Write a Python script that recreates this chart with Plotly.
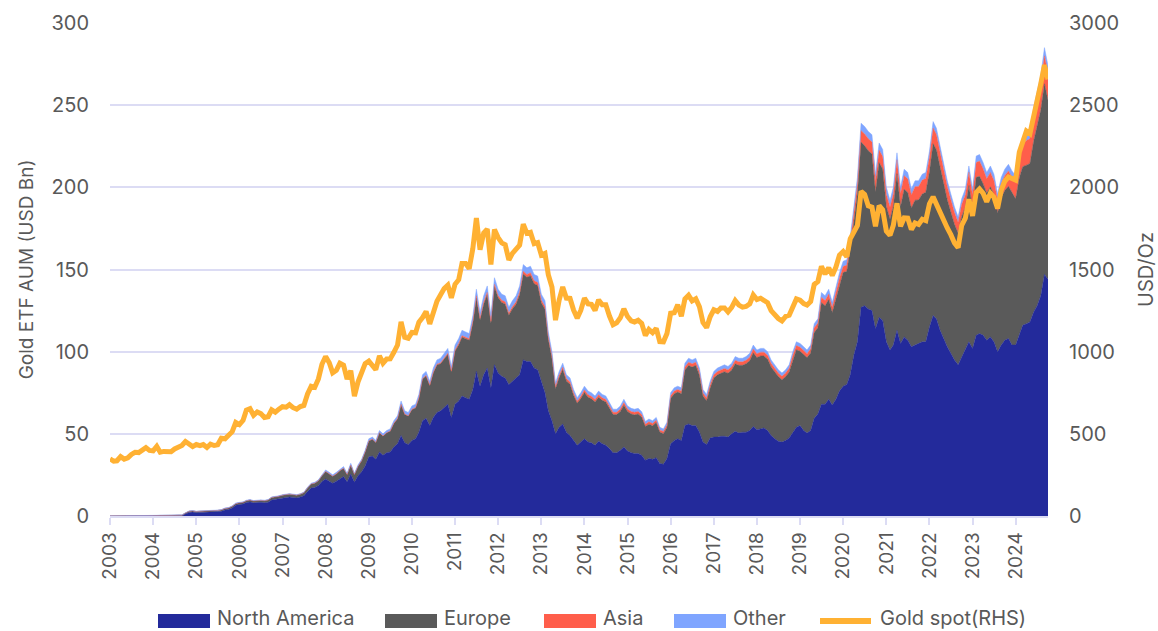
import plotly.graph_objects as go
import pandas as pd

# Monthly positions, Jan 2003 .. Oct 2024
months = pd.date_range("2003-01-01", periods=262, freq="MS")
year_ticks = list(range(2003, 2025))

north_america = [
    0, 0, 0, 0, 0, 0, 0, 0, 0, 0, 0, 0,
    0, 0, 0, 0, 0, 0, 0, 0, 0, 1.2, 2.2, 2.4,
    2.0, 2.2, 2.2, 2.3, 2.4, 2.6, 2.7, 2.9, 3.7, 4.0, 4.9, 6.5,
    7.0, 7.3, 8.2, 8.5, 8.0, 8.3, 8.3, 8.1, 8.4, 9.8, 10.1, 10.4,
    11.1, 11.3, 11.6, 11.3, 11.0, 11.6, 12.3, 14.9, 17.0, 17.4, 18.6, 21.0,
    22.5, 21.2, 20.0, 21.2, 22.8, 24.0, 20.8, 25.6, 20.6, 24.5, 27.0, 30.5,
    36, 36.5, 34.5, 39, 37, 38.5, 39, 42, 44, 49, 44.5, 43.5,
    46, 47, 51, 58, 59.5, 55, 60, 63, 64, 66, 68, 60,
    68, 70, 73, 72, 71, 77, 88, 79, 86, 90, 78, 92,
    87, 85, 84, 80, 82, 84, 86, 95, 94, 94, 90, 89,
    82, 75, 64, 58, 50, 54, 56, 51, 49, 46, 43, 45,
    47, 45, 44.5, 43, 45.5, 44, 43, 41, 38.5, 38.5, 40, 42,
    39.5, 38.5, 38, 38, 37, 34, 35, 34.5, 35.5, 32, 31.5, 35,
    44, 46, 47, 46, 55, 56, 55, 55, 51, 45, 43.5, 47.5,
    48, 48, 48.5, 48.5, 48, 50, 51.5, 50.5, 51, 51, 52, 54.5,
    52.5, 53, 53.5, 52, 49, 47, 45.5, 45, 46, 47.5, 51, 54,
    55, 52, 50.5, 52, 59.5, 62, 68, 68, 71, 67.5, 71, 76,
    79, 80, 86, 98, 106, 127, 128, 126, 125, 114, 121, 119,
    106, 101, 104, 113, 105, 109, 107, 103, 104, 105, 106, 106,
    115, 122, 120, 113, 108, 103, 99, 95, 92, 97, 101, 106,
    102, 110, 111, 110, 107, 109, 106, 100, 104, 107, 108, 104,
    104, 110, 116, 117, 118, 124, 128, 134, 147, 144,
]

europe = [
    0, 0, 0, 0, 0, 0, 0, 0, 0, 0, 0, 0,
    0.1, 0.2, 0.3, 0.4, 0.4, 0.4, 0.4, 0.5, 0.5, 0.6, 0.7, 0.7,
    0.7, 0.7, 0.7, 0.7, 0.7, 0.7, 0.7, 0.8, 0.9, 0.9, 1.0, 1.0,
    1.0, 1.0, 1.1, 1.2, 1.1, 1.2, 1.2, 1.2, 1.3, 1.5, 1.5, 1.6,
    1.6, 1.7, 1.7, 1.7, 1.7, 1.7, 1.9, 2.2, 2.5, 2.6, 2.9, 3.5,
    4.6, 4.4, 4.2, 4.4, 4.8, 5.0, 4.4, 5.4, 4.6, 5.6, 6.6, 8.5,
    9.7, 10.2, 10.2, 11.6, 11.6, 12.1, 12.6, 14.3, 15.2, 18.8, 17.3, 17.3,
    18.7, 18.7, 20.5, 25.3, 25.7, 24.3, 27.0, 28.9, 28.6, 29.5, 30.3, 27.6,
    32.3, 34.1, 35.8, 35.9, 35.9, 40.5, 44.8, 40.3, 43.0, 44.8, 39.3, 47.6,
    45.8, 44.9, 44.9, 42.2, 44.0, 44.9, 48.7, 52.2, 51.3, 52.2, 51.3, 51.3,
    47.7, 50.8, 43.5, 37.9, 27.5, 30.3, 33.1, 31.2, 31.2, 27.5, 25.6, 26.5,
    28.2, 27.3, 26.8, 26.4, 26.7, 26.4, 26.4, 24.5, 23.2, 23.2, 23.6, 25.4,
    24.1, 23.6, 23.6, 24.1, 23.2, 20.4, 20.9, 20.4, 21.4, 19.1, 18.6, 18.9,
    27.6, 28.4, 28.4, 28.4, 33.8, 35.6, 35.6, 36.6, 34.7, 28.0, 26.6, 30.4,
    35.9, 37.9, 38.3, 39.3, 38.9, 38.8, 41.1, 41.2, 40.7, 41.7, 42.5, 44.8,
    43.9, 44.4, 43.9, 43.5, 41.7, 40.7, 39.4, 37.9, 38.8, 40.2, 44.4, 47.2,
    45.2, 46.2, 45.9, 47.2, 52.2, 52.5, 61.9, 59.9, 60.7, 56.4, 61.6, 65.2,
    69.1, 68.9, 76.0, 81.0, 90.2, 100.5, 97.3, 96.3, 95.3, 83.1, 94.1, 92.1,
    82.3, 79.8, 84.5, 95.3, 83.2, 89.8, 89.9, 84.4, 88.2, 87.3, 90.0, 91.0,
    94.5, 104.6, 102.9, 99.5, 94.0, 89.5, 86.0, 82.5, 80.0, 85.3, 86.9, 95.1,
    85.5, 96.1, 95.7, 92.1, 89.6, 91.3, 89.6, 84.4, 89.6, 91.1, 92.6, 92.4,
    89.0, 95.8, 96.6, 96.5, 96.5, 103.9, 109.8, 113.2, 116.0, 109.2,
]

asia = [
    0, 0, 0, 0, 0, 0, 0, 0, 0, 0, 0, 0,
    0, 0, 0, 0, 0, 0, 0, 0, 0, 0, 0, 0,
    0, 0, 0, 0, 0, 0, 0, 0, 0, 0, 0, 0,
    0, 0, 0, 0, 0, 0, 0, 0, 0, 0, 0, 0,
    0, 0, 0, 0, 0, 0, 0, 0, 0, 0, 0, 0,
    0.05, 0.05, 0.05, 0.05, 0.05, 0.05, 0.05, 0.05, 0.05, 0.05, 0.05, 0.05,
    0.1, 0.1, 0.1, 0.1, 0.1, 0.1, 0.1, 0.1, 0.1, 0.2, 0.2, 0.2,
    0.3, 0.3, 0.4, 0.4, 0.4, 0.4, 0.5, 0.5, 0.6, 0.6, 0.7, 0.6,
    0.7, 0.8, 0.9, 0.9, 0.9, 1.0, 1.2, 1.1, 1.2, 1.3, 1.2, 1.4,
    1.4, 1.4, 1.4, 1.3, 1.4, 1.4, 1.5, 1.7, 1.7, 1.8, 1.8, 1.8,
    1.7, 1.7, 1.5, 1.4, 1.2, 1.3, 1.4, 1.4, 1.4, 1.3, 1.3, 1.3,
    1.5, 1.5, 1.5, 1.5, 1.6, 1.5, 1.5, 1.5, 1.4, 1.4, 1.5, 1.6,
    1.5, 1.5, 1.5, 1.5, 1.5, 1.4, 1.4, 1.4, 1.4, 1.3, 1.3, 1.4,
    1.5, 1.6, 1.6, 1.6, 1.9, 2.0, 2.0, 2.0, 2.0, 1.9, 1.9, 2.0,
    2.0, 2.0, 2.0, 2.0, 2.0, 2.0, 2.1, 2.1, 2.1, 2.1, 2.2, 2.3,
    2.3, 2.3, 2.3, 2.3, 2.2, 2.2, 2.1, 2.1, 2.2, 2.2, 2.4, 2.5,
    2.5, 2.5, 2.4, 2.5, 2.8, 2.9, 3.2, 3.2, 3.3, 3.2, 3.4, 3.6,
    3.7, 3.8, 4.5, 5.2, 5.8, 7.0, 7.2, 7.3, 7.3, 6.8, 7.5, 7.6,
    7.5, 7.2, 7.5, 8.5, 8.0, 8.3, 8.3, 8.0, 8.2, 8.2, 8.4, 8.4,
    8.8, 9.5, 9.3, 8.8, 8.4, 8.0, 7.6, 7.2, 6.8, 7.3, 7.6, 8.2,
    8.0, 9.0, 9.3, 9.0, 8.6, 8.8, 8.6, 8.0, 8.6, 9.0, 9.4, 9.6,
    10, 12, 14, 15, 15, 15.5, 15.5, 16, 17, 16,
]

other = [
    0, 0, 0.05, 0.08, 0.1, 0.1, 0.12, 0.15, 0.15, 0.18, 0.2, 0.2,
    0.2, 0.2, 0.2, 0.2, 0.2, 0.2, 0.2, 0.2, 0.2, 0.2, 0.2, 0.2,
    0.2, 0.2, 0.2, 0.2, 0.2, 0.2, 0.2, 0.2, 0.3, 0.3, 0.3, 0.4,
    0.3, 0.3, 0.3, 0.3, 0.3, 0.3, 0.3, 0.3, 0.3, 0.3, 0.3, 0.3,
    0.3, 0.3, 0.3, 0.3, 0.3, 0.3, 0.3, 0.4, 0.5, 0.5, 0.5, 0.5,
    0.9, 0.9, 0.8, 0.9, 0.9, 1.0, 0.8, 1.0, 0.8, 0.9, 0.9, 1.0,
    1.2, 1.2, 1.2, 1.3, 1.3, 1.3, 1.3, 1.6, 1.7, 2.0, 2.0, 2.0,
    2.0, 2.0, 2.1, 2.3, 2.4, 2.3, 2.5, 2.6, 2.8, 2.9, 3.0, 2.8,
    3.0, 3.1, 3.3, 3.2, 3.2, 3.5, 4.0, 3.6, 3.8, 3.9, 3.5, 4.0,
    3.8, 3.7, 3.7, 3.5, 3.6, 3.7, 3.8, 4.1, 4.0, 4.0, 3.9, 3.9,
    3.6, 3.5, 3.0, 2.7, 2.3, 2.4, 2.5, 2.4, 2.4, 2.2, 2.1, 2.2,
    2.3, 2.2, 2.2, 2.1, 2.2, 2.1, 2.1, 2.0, 1.9, 1.9, 1.9, 2.0,
    1.9, 1.9, 1.9, 1.9, 1.8, 1.7, 1.7, 1.7, 1.7, 1.6, 1.6, 1.7,
    1.9, 2.0, 2.0, 2.0, 2.3, 2.4, 2.4, 2.4, 2.3, 2.1, 2.0, 2.1,
    2.1, 2.1, 2.2, 2.2, 2.1, 2.2, 2.3, 2.2, 2.2, 2.2, 2.3, 2.4,
    2.3, 2.3, 2.3, 2.2, 2.1, 2.1, 2.0, 2.0, 2.0, 2.1, 2.2, 2.3,
    2.3, 2.3, 2.2, 2.3, 2.5, 2.6, 2.9, 2.9, 3.0, 2.9, 3.0, 3.2,
    3.2, 3.3, 3.5, 3.8, 4.0, 4.5, 4.5, 4.4, 4.4, 4.1, 4.4, 4.3,
    4.2, 4.0, 4.0, 4.2, 3.8, 3.9, 3.8, 3.6, 3.6, 3.5, 3.6, 3.6,
    3.7, 3.9, 3.8, 3.7, 3.6, 3.5, 3.4, 3.3, 3.2, 3.4, 3.5, 3.7,
    3.5, 3.9, 4.0, 3.9, 3.8, 3.9, 3.8, 3.6, 3.8, 3.9, 4.0, 4.0,
    4.0, 4.2, 4.4, 4.5, 4.5, 4.6, 4.7, 4.8, 5.0, 4.8,
]

gold_spot = [
    347, 334, 336, 361, 346, 354, 375, 388, 386, 398, 416, 399,
    396, 424, 388, 393, 395, 391, 408, 416, 429, 453, 438, 422,
    435, 428, 435, 417, 437, 429, 433, 473, 470, 496, 513, 569,
    556, 582, 644, 653, 613, 633, 623, 599, 604, 646, 632, 650,
    665, 662, 677, 659, 650, 666, 673, 743, 789, 783, 834, 923,
    971, 933, 871, 886, 930, 918, 833, 884, 730, 815, 870, 927,
    942, 917, 891, 975, 930, 955, 956, 996, 1040, 1182, 1088, 1081,
    1117, 1115, 1180, 1208, 1244, 1169, 1247, 1307, 1346, 1384, 1405, 1328,
    1410, 1438, 1536, 1536, 1505, 1628, 1813, 1620, 1722, 1746, 1531, 1744,
    1694, 1662, 1651, 1558, 1598, 1622, 1648, 1776, 1720, 1726, 1657, 1664,
    1588, 1598, 1469, 1394, 1192, 1314, 1394, 1326, 1324, 1253, 1204, 1251,
    1326, 1291, 1288, 1250, 1315, 1285, 1285, 1217, 1164, 1175, 1206, 1260,
    1214, 1187, 1180, 1191, 1172, 1098, 1135, 1115, 1142, 1061, 1060, 1111,
    1234, 1237, 1285, 1215, 1320, 1343, 1309, 1322, 1273, 1178, 1146, 1212,
    1255, 1245, 1266, 1266, 1242, 1269, 1311, 1283, 1271, 1275, 1291, 1345,
    1317, 1325, 1316, 1298, 1250, 1224, 1202, 1187, 1215, 1222, 1279, 1321,
    1313, 1292, 1284, 1305, 1409, 1427, 1520, 1472, 1511, 1464, 1515, 1588,
    1609, 1577, 1687, 1730, 1768, 1976, 1957, 1887, 1879, 1763, 1888, 1863,
    1734, 1708, 1769, 1903, 1763, 1814, 1813, 1743, 1783, 1774, 1806, 1798,
    1900, 1942, 1897, 1838, 1807, 1753, 1712, 1661, 1633, 1768, 1812, 1928,
    1826, 1969, 1990, 1963, 1912, 1965, 1940, 1871, 1983, 2036, 2063, 2054,
    2044, 2214, 2286, 2343, 2327, 2427, 2503, 2630, 2744, 2657,
]

series_names = ["North America", "Europe", "Asia", "Other", "Gold spot(RHS)"]
series_colors = ["#232A9B", "#5A5A5A", "#FF5E4B", "#7FA5FF", "#FFB133"]

FONT = "Inter"
TXT = "#595959"
GRID = "#DCDCF4"
W, H = 1158, 631
ML, MR, MT, MB = 110, 110, 23, 115

fig = go.Figure()
for name, vals, color in zip(series_names[:4], [north_america, europe, asia, other], series_colors[:4]):
    fig.add_trace(go.Scatter(
        x=months, y=vals, name=name, stackgroup="aum", mode="lines",
        line=dict(width=0.5, color=color), fillcolor=color, showlegend=False,
    ))
fig.add_trace(go.Scatter(
    x=months, y=gold_spot, name=series_names[4], yaxis="y2", mode="lines",
    line=dict(color=series_colors[4], width=5), showlegend=False,
))

# Custom legend (swatches + real text) below the plot, in pixel-derived paper coords
pw, ph = W - ML - MR, H - MT - MB
def px_x(x):
    return (x - ML) / pw
def px_y(y):
    return (H - MB - y) / ph

legend_x = [158, 385, 544, 674, 818]
swatch_w = [52, 52, 52, 52, 55]
shapes = []
annotations = []
for i, (name, color) in enumerate(zip(series_names, series_colors)):
    x0 = legend_x[i]
    x1 = x0 + swatch_w[i]
    if i < 4:
        shapes.append(dict(type="rect", xref="paper", yref="paper",
                           x0=px_x(x0), x1=px_x(x1), y0=px_y(628), y1=px_y(614),
                           fillcolor=color, line=dict(width=0)))
    else:
        shapes.append(dict(type="line", xref="paper", yref="paper",
                           x0=px_x(x0 + 2), x1=px_x(x1 - 2), y0=px_y(621), y1=px_y(621),
                           line=dict(color=color, width=6)))
    annotations.append(dict(text=name, xref="paper", yref="paper",
                            x=px_x(x1 + 5), y=px_y(618), xanchor="left", yanchor="middle",
                            showarrow=False, font=dict(family=FONT, size=20, color=TXT)))

fig.update_layout(
    width=W, height=H,
    margin=dict(l=ML, r=MR, t=MT, b=MB, autoexpand=False),
    paper_bgcolor="white", plot_bgcolor="white",
    font=dict(family=FONT, color=TXT, size=19),
    showlegend=False,
    shapes=shapes,
    annotations=annotations,
    xaxis=dict(
        type="date",
        range=[months[0], months[-1]],
        tickvals=[pd.Timestamp(f"{y}-01-01") for y in year_ticks],
        ticktext=[str(y) for y in year_ticks],
        tickangle=-90, ticks="outside", ticklen=7, tickcolor=GRID, tickwidth=1.5,
        showline=True, linecolor=GRID, linewidth=1.5, showgrid=False,
        tickfont=dict(family=FONT, size=19, color=TXT), automargin=False,
    ),
    yaxis=dict(
        range=[0, 300], dtick=50, showgrid=True, gridcolor=GRID, gridwidth=1.5,
        zeroline=False, showline=False, tickfont=dict(family=FONT, size=20, color=TXT),
        ticklabelstandoff=20,
        title=dict(text="Gold ETF AUM (USD Bn)", font=dict(family=FONT, size=19, color=TXT), standoff=12),
        automargin=False,
    ),
    yaxis2=dict(
        range=[0, 3000], dtick=500, overlaying="y", side="right", showgrid=False,
        zeroline=False, showline=False, tickfont=dict(family=FONT, size=20, color=TXT),
        ticklabelstandoff=20,
        title=dict(text="USD/Oz", font=dict(family=FONT, size=20, color=TXT), standoff=20),
        automargin=False,
    ),
)

fig.write_html(
    "out.html",
    config={"displayModeBar": False},
    post_script="document.body.style.margin='0';document.body.style.overflow='hidden';",
)
